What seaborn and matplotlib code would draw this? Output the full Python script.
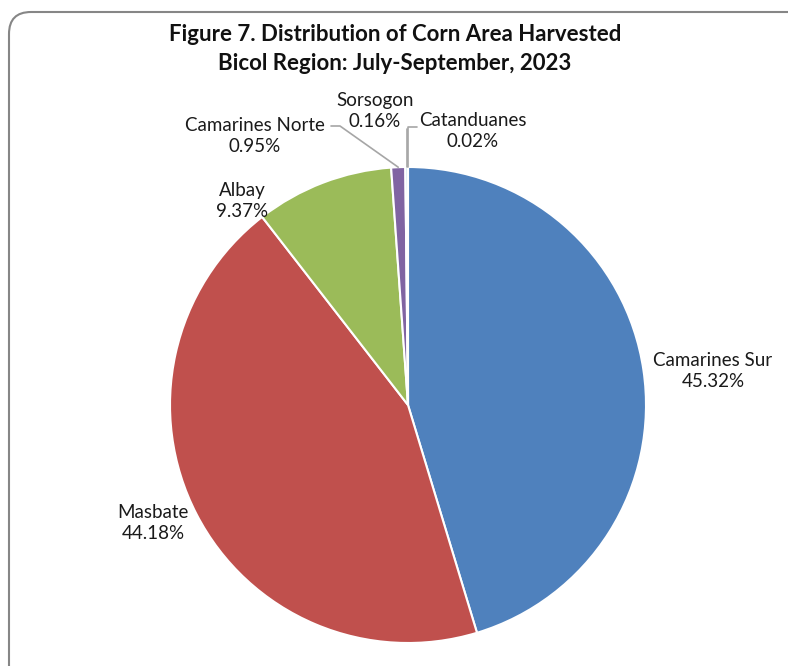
import numpy as np
import matplotlib.pyplot as plt
import seaborn as sns
from matplotlib.patches import FancyBboxPatch

sns.set_theme(style="white")
plt.rcParams['font.family'] = ['Lato', 'DejaVu Sans']

# -------------------------------
# Data
# -------------------------------
provinces = ["Camarines Sur", "Masbate", "Albay", "Camarines Norte", "Sorsogon", "Catanduanes"]
shares = [45.32, 44.18, 9.37, 0.95, 0.16, 0.02]
colors = ["#4F81BD", "#C0504D", "#9BBB59", "#8064A2", "#4BACC6", "#F79646"]

title = "Figure 7. Distribution of Corn Area Harvested\nBicol Region: July-September, 2023"

# label centres in pixel coords (x, y from top)
label_pos = [(713, 371), (153, 523), (242, 201), (255, 136), (375, 111), (473, 131)]

W, H = 788, 666
cx, cy, rad = 408, 405, 238


def Y(y):
    return H - y


fig = plt.figure(figsize=(W / 100, H / 100), dpi=100)
ax = fig.add_axes([0, 0, 1, 1])

# chart frame
frame = FancyBboxPatch((9, Y(H + 30)), W + 40, H + 30 - 12,
                       boxstyle="round,pad=0,rounding_size=22",
                       fc="white", ec="#868686", lw=1.5, zorder=0)
ax.add_patch(frame)

wedges, _ = ax.pie(shares, colors=colors, startangle=90, counterclock=False,
                   center=(cx, Y(cy)), radius=rad,
                   wedgeprops=dict(edgecolor="white", linewidth=1.5))

# labels
for name, val, (lx, ly) in zip(provinces, shares, label_pos):
    ax.text(lx, Y(ly), f"{name}\n{val:.2f}%", ha="center", va="center",
            fontsize=13.5, color="#1a1a1a", linespacing=1.35)

# leader lines for small slices
cum = np.cumsum([0] + shares[:-1])
mid = [90 - 3.6 * (c + v / 2) for c, v in zip(cum, shares)]


def edge_pt(i):
    a = np.deg2rad(mid[i])
    return cx + rad * np.cos(a), cy - rad * np.sin(a)


lc = "#a6a6a6"
# Camarines Norte
ex, ey = edge_pt(3)
ax.plot([331, 340, ex], [Y(126), Y(126), Y(ey)], color=lc, lw=1.2)
# Sorsogon
ex, ey = edge_pt(4)
ax.plot([ex, ex], [Y(129), Y(ey)], color=lc, lw=1.2)
# Catanduanes
ex, ey = edge_pt(5)
ax.plot([ex, ex, 417], [Y(ey), Y(127), Y(127)], color=lc, lw=1.2)

fig.text(395 / W, 1 - 49 / H, title, ha="center", va="center",
         fontsize=16, fontweight="bold", color="#111111", linespacing=1.45)

ax.set_xlim(0, W)
ax.set_ylim(0, H)
ax.set_aspect("equal")
ax.axis("off")

fig.savefig("out.png", dpi=100)
